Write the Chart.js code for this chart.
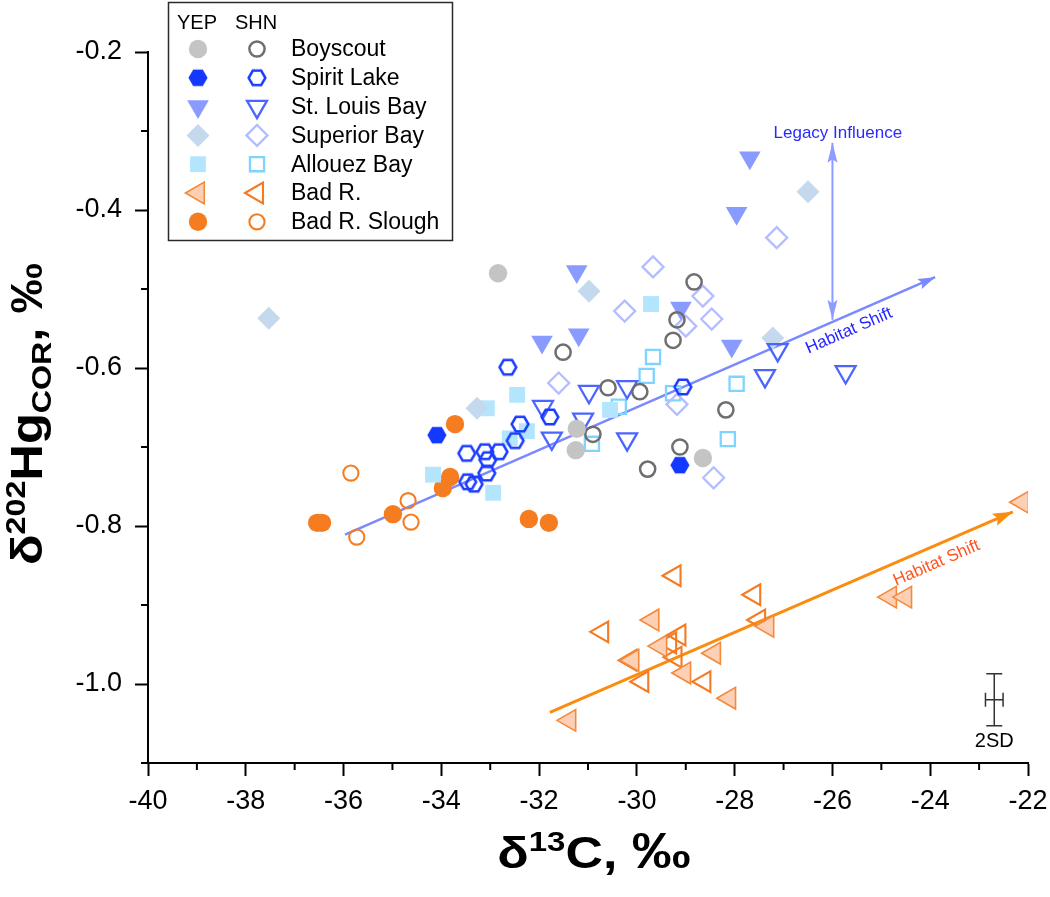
<!DOCTYPE html>
<html lang="en">
<head>
<meta charset="UTF-8">
<title>Hg and C isotopes</title>
<script src="https://cdn.jsdelivr.net/npm/chart.js"></script>
<style>
  html, body { margin: 0; padding: 0; background: #fff; overflow: hidden; }
  #wrap { width: 1050px; height: 897px; position: relative; }
</style>
</head>
<body>
<div id="wrap"><canvas id="chart"></canvas></div>
<script>
// ---- values (x = d13C, y = d202Hg COR) ----
const sites = ['Boyscout', 'Spirit Lake', 'St. Louis Bay', 'Superior Bay', 'Allouez Bay', 'Bad R.', 'Bad R. Slough'];

const boyscoutYepX = [-32.84, -31.23, -31.25, -28.65];
const boyscoutYepY = [-0.480, -0.677, -0.704, -0.714];
const boyscoutShnX = [-28.83, -29.18, -29.26, -31.51, -30.59, -29.94, -30.90, -28.18, -29.12, -29.78];
const boyscoutShnY = [-0.491, -0.539, -0.565, -0.580, -0.625, -0.630, -0.684, -0.653, -0.700, -0.728];

const spiritYepX = [-34.09, -29.12];
const spiritYepY = [-0.685, -0.723];
const spiritShnX = [-32.64, -32.39, -32.49, -33.48, -33.11, -33.05, -32.82, -33.07, -33.46, -33.33, -31.78, -29.06];
const spiritShnY = [-0.599, -0.671, -0.692, -0.708, -0.706, -0.716, -0.706, -0.733, -0.744, -0.747, -0.662, -0.624];

const stLouisYepX = [-27.69, -27.96, -31.23, -31.19, -31.94, -29.10, -28.06];
const stLouisYepY = [-0.334, -0.404, -0.478, -0.558, -0.567, -0.524, -0.572];
const stLouisShnX = [-31.92, -30.98, -30.20, -31.10, -31.74, -30.20, -27.38, -27.12, -25.73];
const stLouisShnY = [-0.649, -0.630, -0.624, -0.665, -0.689, -0.690, -0.610, -0.577, -0.605];

const superiorYepX = [-37.53, -30.98, -26.50, -27.22, -33.27];
const superiorYepY = [-0.537, -0.503, -0.377, -0.562, -0.651];
const superiorShnX = [-29.67, -30.25, -28.65, -28.47, -29.00, -31.60, -29.18, -28.43, -27.14];
const superiorShnY = [-0.472, -0.528, -0.509, -0.538, -0.547, -0.619, -0.646, -0.739, -0.435];

const allouezYepX = [-29.71, -32.45, -33.07, -32.25, -32.60, -34.17, -32.94, -30.55];
const allouezYepY = [-0.519, -0.634, -0.651, -0.680, -0.689, -0.735, -0.758, -0.653];
const allouezShnX = [-29.67, -29.80, -30.37, -29.26, -27.96, -28.14, -30.92];
const allouezShnY = [-0.586, -0.610, -0.649, -0.632, -0.620, -0.690, -0.696];

const badRYepX = [-22.12, -24.82, -24.51, -31.38, -29.68, -29.52, -30.09, -29.03, -28.42, -28.11, -27.33];
const badRYepY = [-0.770, -0.890, -0.890, -1.046, -0.919, -0.952, -0.970, -0.986, -0.961, -1.018, -0.927];
const badRShnX = [-29.23, -27.60, -30.71, -29.13, -29.32, -29.21, -30.13, -29.89, -28.62, -27.50];
const badRShnY = [-0.863, -0.887, -0.934, -0.938, -0.948, -0.966, -0.970, -0.997, -0.997, -0.919];

const sloughYepX = [-36.54, -36.44, -34.99, -33.97, -33.82, -33.72, -32.21, -31.80];
const sloughYepY = [-0.796, -0.796, -0.785, -0.752, -0.738, -0.671, -0.791, -0.796];
const sloughShnX = [-35.85, -34.68, -34.62, -35.73];
const sloughShnY = [-0.733, -0.768, -0.795, -0.814];

// trend arrows and annotations
const blueShiftX = [-35.97, -23.90];
const blueShiftY = [-0.811, -0.485];
const orangeShiftX = [-31.78, -22.31];
const orangeShiftY = [-1.036, -0.782];
const legacyX = [-26.0, -26.0];
const legacyY = [-0.539, -0.315];
const legacyLabel = [-25.89, -0.3025];
const blueShiftLabel = [-25.66, -0.553];
const orangeShiftLabel = [-23.87, -0.847];
const errBar = [-22.69, -1.020];   // centre of the 2SD bar
const errBarD = [0.18, 0.033];     // half widths (x, y)
const errBarLabel = [-22.69, -1.073];

// axes
const xTicks = [-40, -38, -36, -34, -32, -30, -28, -26, -24, -22];
const xMinor = [-39, -37, -35, -33, -31, -29, -27, -25, -23];
const yTicks = [-1.0, -0.8, -0.6, -0.4, -0.2];
const yMinor = [-1.1, -0.9, -0.7, -0.5, -0.3];

const FONT = "'Liberation Sans', Arial, Helvetica, sans-serif";

// hexagon markers (flat top) drawn into small canvases
function hexCanvas(fill, stroke, lw) {
  const r = 9.6, w = 22, h = 20;
  const c = document.createElement('canvas');
  c.width = w; c.height = h;
  const g = c.getContext('2d');
  const rr = r - (stroke ? lw / 2 : 0);
  g.beginPath();
  for (let i = 0; i < 6; i++) {
    const a = Math.PI / 3 * i;
    const px = w / 2 + rr * Math.cos(a), py = h / 2 + rr * Math.sin(a);
    if (i) g.lineTo(px, py); else g.moveTo(px, py);
  }
  g.closePath();
  if (fill) { g.fillStyle = fill; g.fill(); }
  if (stroke) { g.strokeStyle = stroke; g.lineWidth = lw; g.stroke(); }
  return c;
}
const hexFilled = hexCanvas('#1538ff', null, 0);
const hexOpen = hexCanvas(null, '#1a3cff', 2.5);

const NONE = 'rgba(0,0,0,0)';
const yepStyles = [
  { style: 'circle', r: 9.2, rot: 0, bg: '#c4c4c4', bd: '#c4c4c4', bw: 0 },
  { style: hexFilled, r: 9, rot: 0, bg: '#1538ff', bd: '#1538ff', bw: 0 },
  { style: 'triangle', r: 12.5, rot: 180, bg: '#8a9bff', bd: '#8a9bff', bw: 0 },
  { style: 'rectRot', r: 11.5, rot: 0, bg: '#c5d9ee', bd: '#c5d9ee', bw: 0 },
  { style: 'rect', r: 11.2, rot: 0, bg: '#b3e5fc', bd: '#b3e5fc', bw: 0 },
  { style: 'triangle', r: 12.5, rot: 270, bg: '#fdd0b5', bd: '#f5893a', bw: 1.6 },
  { style: 'circle', r: 9.2, rot: 0, bg: '#f57c1f', bd: '#f57c1f', bw: 0 }
];
const shnStyles = [
  { style: 'circle', r: 7.6, rot: 0, bg: NONE, bd: '#6e6e6e', bw: 2.5 },
  { style: hexOpen, r: 9, rot: 0, bg: NONE, bd: '#1a3cff', bw: 2.5 },
  { style: 'triangle', r: 11.5, rot: 180, bg: NONE, bd: '#4a66ff', bw: 2.3 },
  { style: 'rectRot', r: 10.5, rot: 0, bg: NONE, bd: '#b4bdff', bw: 2.3 },
  { style: 'rect', r: 10, rot: 0, bg: NONE, bd: '#7fd4ff', bw: 2.3 },
  { style: 'triangle', r: 12, rot: 270, bg: NONE, bd: '#f57a22', bw: 2.1 },
  { style: 'circle', r: 7.6, rot: 0, bg: NONE, bd: '#f57c1f', bw: 2.1 }
];

const yepData = [
  [boyscoutYepX, boyscoutYepY], [spiritYepX, spiritYepY], [stLouisYepX, stLouisYepY],
  [superiorYepX, superiorYepY], [allouezYepX, allouezYepY], [badRYepX, badRYepY], [sloughYepX, sloughYepY]
];
const shnData = [
  [boyscoutShnX, boyscoutShnY], [spiritShnX, spiritShnY], [stLouisShnX, stLouisShnY],
  [superiorShnX, superiorShnY], [allouezShnX, allouezShnY], [badRShnX, badRShnY], [sloughShnX, sloughShnY]
];

function pts(xs, ys) { return xs.map((v, i) => ({ x: v, y: ys[i] })); }

function markerSet(label, xy, s) {
  return {
    label: label,
    data: pts(xy[0], xy[1]),
    pointStyle: s.style,
    pointRadius: s.r,
    pointRotation: s.rot,
    pointBackgroundColor: s.bg,
    pointBorderColor: s.bd,
    pointBorderWidth: s.bw,
    showLine: false
  };
}

function lineSet(xs, ys, color, width) {
  return {
    label: '',
    data: pts(xs, ys),
    showLine: true,
    borderColor: color,
    borderWidth: width,
    pointRadius: 0,
    fill: false
  };
}

const datasets = [];
sites.forEach((s, i) => {
  datasets.push(markerSet(s + ' YEP', yepData[i], yepStyles[i]));
  datasets.push(markerSet(s + ' SHN', shnData[i], shnStyles[i]));
});
// lines last, so they are painted underneath the markers
datasets.push(lineSet(blueShiftX, blueShiftY, '#7a89ff', 2.5));
datasets.push(lineSet(legacyX, legacyY, '#8e9cff', 2));
datasets.push(lineSet(orangeShiftX, orangeShiftY, '#fb8c10', 3));

function arrowHead(ctx, x0, y0, x1, y1, len, half, color) {
  const a = Math.atan2(y1 - y0, x1 - x0);
  ctx.save();
  ctx.translate(x1, y1);
  ctx.rotate(a);
  ctx.beginPath();
  ctx.moveTo(0, 0);
  ctx.lineTo(-len, -half);
  ctx.lineTo(-len * 0.82, 0);
  ctx.lineTo(-len, half);
  ctx.closePath();
  ctx.fillStyle = color;
  ctx.fill();
  ctx.restore();
}

// text made of runs with different size / vertical shift, stretched along its direction
function richText(ctx, parts, sx) {
  let total = 0;
  parts.forEach(p => { ctx.font = p.font; p.w = ctx.measureText(p.t).width; total += p.w; });
  ctx.scale(sx, 1);
  let cx = -total / 2;
  ctx.textBaseline = 'alphabetic';
  ctx.textAlign = 'left';
  parts.forEach(p => { ctx.font = p.font; ctx.fillText(p.t, cx, p.dy); cx += p.w; });
}

function drawMarker(ctx, s, x, y) {
  ctx.save();
  ctx.fillStyle = s.bg;
  ctx.strokeStyle = s.bd;
  ctx.lineWidth = s.bw;
  if (Chart.helpers && Chart.helpers.drawPoint) {
    Chart.helpers.drawPoint(ctx, { pointStyle: s.style, rotation: s.rot, radius: s.r, borderWidth: s.bw }, x, y);
  } else {
    ctx.beginPath(); ctx.arc(x, y, s.r, 0, Math.PI * 2); ctx.fill(); if (s.bw) ctx.stroke();
  }
  ctx.restore();
}

const figureExtras = {
  id: 'figureExtras',
  afterDatasetsDraw(chart) {
    const ctx = chart.ctx, xs = chart.scales.x, ys = chart.scales.y;
    const P = (x, y) => [xs.getPixelForValue(x), ys.getPixelForValue(y)];
    let a = P(blueShiftX[0], blueShiftY[0]), b = P(blueShiftX[1], blueShiftY[1]);
    arrowHead(ctx, a[0], a[1], b[0], b[1], 17, 5.5, '#7a89ff');
    a = P(legacyX[0], legacyY[0]); b = P(legacyX[1], legacyY[1]);
    arrowHead(ctx, a[0], a[1], b[0], b[1], 20, 5, '#8e9cff');
    arrowHead(ctx, b[0], b[1], a[0], a[1], 20, 5, '#8e9cff');
    a = P(orangeShiftX[0], orangeShiftY[0]); b = P(orangeShiftX[1], orangeShiftY[1]);
    arrowHead(ctx, a[0], a[1], b[0], b[1], 20, 6.5, '#fb8c10');
  },
  afterDraw(chart) {
    const ctx = chart.ctx, xs = chart.scales.x, ys = chart.scales.y, area = chart.chartArea;
    const P = (x, y) => [xs.getPixelForValue(x), ys.getPixelForValue(y)];
    ctx.save();

    // minor ticks
    ctx.strokeStyle = '#000';
    ctx.lineWidth = 2;
    ctx.beginPath();
    xMinor.forEach(v => { const px = xs.getPixelForValue(v); ctx.moveTo(px, area.bottom); ctx.lineTo(px, area.bottom + 7); });
    yMinor.forEach(v => { const py = ys.getPixelForValue(v); ctx.moveTo(area.left, py); ctx.lineTo(area.left - 7, py); });
    ctx.stroke();

    // annotation text
    ctx.font = '17px ' + FONT;
    ctx.textAlign = 'center';
    ctx.textBaseline = 'middle';
    let p = P(legacyLabel[0], legacyLabel[1]);
    ctx.fillStyle = '#2a2aff';
    ctx.fillText('Legacy Influence', p[0], p[1]);

    let a = P(blueShiftX[0], blueShiftY[0]), b = P(blueShiftX[1], blueShiftY[1]);
    p = P(blueShiftLabel[0], blueShiftLabel[1]);
    ctx.save();
    ctx.translate(p[0], p[1]);
    ctx.rotate(Math.atan2(b[1] - a[1], b[0] - a[0]));
    ctx.fillStyle = '#2525ff';
    ctx.fillText('Habitat Shift', 0, 0);
    ctx.restore();

    a = P(orangeShiftX[0], orangeShiftY[0]); b = P(orangeShiftX[1], orangeShiftY[1]);
    p = P(orangeShiftLabel[0], orangeShiftLabel[1]);
    ctx.save();
    ctx.translate(p[0], p[1]);
    ctx.rotate(Math.atan2(b[1] - a[1], b[0] - a[0]));
    ctx.fillStyle = '#ff5522';
    ctx.fillText('Habitat Shift', 0, 0);
    ctx.restore();

    // 2SD error bar
    const c = P(errBar[0], errBar[1]);
    const top = ys.getPixelForValue(errBar[1] + errBarD[1]), bot = ys.getPixelForValue(errBar[1] - errBarD[1]);
    const lft = xs.getPixelForValue(errBar[0] - errBarD[0]), rgt = xs.getPixelForValue(errBar[0] + errBarD[0]);
    ctx.strokeStyle = '#333';
    ctx.lineWidth = 1.5;
    ctx.beginPath();
    ctx.moveTo(c[0], top); ctx.lineTo(c[0], bot);
    ctx.moveTo(c[0] - 8, top); ctx.lineTo(c[0] + 8, top);
    ctx.moveTo(c[0] - 8, bot); ctx.lineTo(c[0] + 8, bot);
    ctx.moveTo(lft, c[1]); ctx.lineTo(rgt, c[1]);
    ctx.moveTo(lft, c[1] - 7); ctx.lineTo(lft, c[1] + 7);
    ctx.moveTo(rgt, c[1] - 7); ctx.lineTo(rgt, c[1] + 7);
    ctx.stroke();
    p = P(errBarLabel[0], errBarLabel[1]);
    ctx.fillStyle = '#000';
    ctx.font = '20px ' + FONT;
    ctx.fillText('2SD', p[0], p[1]);

    // axis titles
    const big = 'bold 44px ' + FONT, small = 'bold 28px ' + FONT;
    ctx.fillStyle = '#000';
    ctx.save();
    ctx.translate((area.left + area.right) / 2 + 6, 868);
    richText(ctx, [
      { t: '\u03B4', font: big, dy: 0 },
      { t: '13', font: small, dy: -17 },
      { t: 'C, ', font: big, dy: 0 },
      { t: '\u2030', font: 'bold 50px ' + FONT, dy: 0 }
    ], 1.18);
    ctx.restore();

    ctx.save();
    ctx.translate(42, 414);
    ctx.rotate(-Math.PI / 2);
    richText(ctx, [
      { t: '\u03B4', font: big, dy: 0 },
      { t: '202', font: small, dy: -17 },
      { t: 'Hg', font: big, dy: 0 },
      { t: 'COR', font: small, dy: 9 },
      { t: ', \u2030', font: big, dy: 0 }
    ], 1.15);
    ctx.restore();

    // legend box
    const lx = 168, ly = 2, lw = 284, lh = 238;
    ctx.fillStyle = '#fff';
    ctx.fillRect(lx, ly, lw, lh);
    ctx.strokeStyle = '#2a2a2a';
    ctx.lineWidth = 1.5;
    ctx.strokeRect(lx + 0.5, ly + 0.5, lw, lh);
    ctx.fillStyle = '#000';
    ctx.textBaseline = 'middle';
    ctx.textAlign = 'center';
    ctx.font = '20px ' + FONT;
    ctx.fillText('YEP', 197, 23);
    ctx.fillText('SHN', 256, 23);
    ctx.textAlign = 'left';
    ctx.font = '23px ' + FONT;
    sites.forEach((s, i) => {
      const yy = 49 + i * 28.8;
      drawMarker(ctx, yepStyles[i], 198, yy);
      drawMarker(ctx, shnStyles[i], 257, yy);
      ctx.fillStyle = '#000';
      ctx.fillText(s, 291, yy + 1);
    });
    ctx.restore();
  }
};

Chart.defaults.font.family = FONT;
Chart.defaults.color = '#000';

new Chart(document.getElementById('chart'), {
  type: 'scatter',
  data: { datasets: datasets },
  options: {
    responsive: true,
    maintainAspectRatio: false,
    animation: false,
    events: [],
    layout: { autoPadding: false, padding: { top: 52, right: 22, left: 0, bottom: 0 } },
    plugins: { legend: { display: false }, tooltip: { enabled: false } },
    scales: {
      x: {
        type: 'linear',
        min: -40, max: -22,
        afterFit: s => { s.height = 134; s.paddingRight = 0; },
        afterBuildTicks: s => { s.ticks = xTicks.map(v => ({ value: v })); },
        grid: { drawOnChartArea: false, drawTicks: true, tickLength: 13, tickWidth: 2, tickColor: '#000' },
        border: { display: true, color: '#000', width: 2 },
        ticks: { font: { size: 27 }, color: '#000', padding: 9, maxRotation: 0, callback: v => String(v) }
      },
      y: {
        type: 'linear',
        min: -1.1, max: -0.2,
        afterFit: s => { s.width = 148; },
        afterBuildTicks: s => { s.ticks = yTicks.map(v => ({ value: v })); },
        grid: { drawOnChartArea: false, drawTicks: true, tickLength: 13, tickWidth: 2, tickColor: '#000' },
        border: { display: true, color: '#000', width: 2 },
        ticks: { font: { size: 27 }, color: '#000', padding: 13, callback: v => Number(v).toFixed(1) }
      }
    }
  },
  plugins: [figureExtras]
});
</script>
</body>
</html>
